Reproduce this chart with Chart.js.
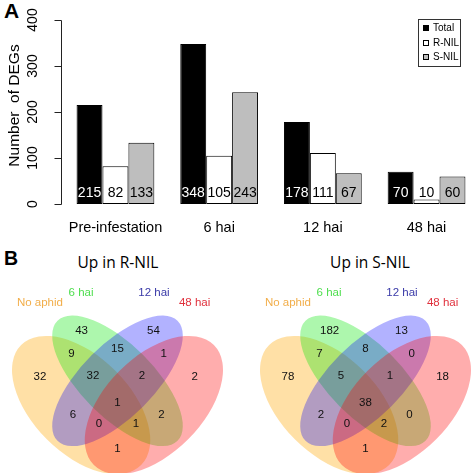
<!DOCTYPE html>
<html>
<head>
<meta charset="utf-8">
<script src="https://cdn.jsdelivr.net/npm/chart.js@4.4.1/dist/chart.umd.min.js"></script>
<style>
  html, body { margin: 0; padding: 0; background: #fff; }
  body { width: 472px; height: 473px; overflow: hidden; position: relative; }
  canvas { position: absolute; }
  .panel { position: absolute; font-family: "Liberation Sans", Arial, sans-serif; font-weight: bold; line-height: 1; }
  .vtitle { position: absolute; width: 120px; text-align: center; font: 15.5px "Open Sans", sans-serif; line-height: 1; }
</style>
</head>
<body>
<div class="panel" style="left:4px; top:0px; font-size:21px;">A</div>
<div class="panel" style="left:4px; top:249px; font-size:19.5px;">B</div>
<div class="vtitle" style="left:58px; top:255px;">Up in R-NIL</div>
<div class="vtitle" style="left:310px; top:255px;">Up in S-NIL</div>

<canvas id="barChart" width="482" height="240" style="left:0; top:0;"></canvas>
<canvas id="vennR" width="236" height="193" style="left:0; top:280px;"></canvas>
<canvas id="vennS" width="224" height="193" style="left:248px; top:280px;"></canvas>

<script>
// panel A data
const groups = ["Pre-infestation", "6 hai", "12 hai", "48 hai"];
const totalDEGs = [215, 348, 178, 70];
const rnilDEGs = [82, 105, 111, 10];
const snilDEGs = [133, 243, 67, 60];
const yTicks = [0, 100, 200, 300, 400];
const seriesNames = ["Total", "R-NIL", "S-NIL"];

// panel B data
const vennSets = ["No aphid", "6 hai", "12 hai", "48 hai"];
// regions: A, B, C, D, AB, BC, CD, ABC, BCD, ABCD, AC, ACD, ABD, BD, AD
const upRNIL = [32, 43, 54, 2, 9, 15, 1, 32, 2, 1, 6, 0, 1, 2, 1];
const upSNIL = [78, 182, 13, 18, 7, 8, 0, 5, 1, 38, 2, 0, 2, 0, 1];

// venn layout (unit square, y up), same for both diagrams
const regionPos = [
  [0.180, 0.586], [0.352, 0.775], [0.648, 0.775], [0.818, 0.586],
  [0.310, 0.680], [0.500, 0.701], [0.690, 0.680],
  [0.399, 0.590], [0.601, 0.590], [0.500, 0.478],
  [0.316, 0.429], [0.424, 0.392], [0.576, 0.392], [0.681, 0.429],
  [0.500, 0.289]
];
const setLabelPos = [[0.180, 0.891], [0.3495, 0.932], [0.6505, 0.932], [0.818, 0.891]];
const ellipses = [
  { x: 0.35, y: 0.47, a: 0.35, b: 0.20, rot: 45 },
  { x: 0.50, y: 0.57, a: 0.35, b: 0.15, rot: 45 },
  { x: 0.50, y: 0.57, a: 0.35, b: 0.15, rot: -45 },
  { x: 0.65, y: 0.47, a: 0.35, b: 0.20, rot: -45 }
];
const vennFills = ["rgba(255,165,0,0.35)", "rgba(0,230,0,0.32)", "rgba(0,0,255,0.30)", "rgba(255,0,0,0.32)"];
const vennLabelColors = ["#f2ae4a", "#4ede4e", "#3a3aa8", "#e0303c"];

const FONT = '"Liberation Sans", Arial, sans-serif';

// ---------- bar chart ----------
const barDecor = {
  id: "barDecor",
  afterDraw(chart) {
    const ctx = chart.ctx;
    const y = chart.scales.y;
    const area = chart.chartArea;
    ctx.save();

    // y axis like R
    const ax = Math.round(area.left - 3) + 0.5;
    ctx.strokeStyle = "#222";
    ctx.lineWidth = 1;
    ctx.beginPath();
    ctx.moveTo(ax, Math.round(y.getPixelForValue(yTicks[0])) + 0.5);
    ctx.lineTo(ax, Math.round(y.getPixelForValue(yTicks[yTicks.length - 1])) + 0.5);
    yTicks.forEach(t => {
      const py = Math.round(y.getPixelForValue(t)) + 0.5;
      ctx.moveTo(ax - 7, py);
      ctx.lineTo(ax, py);
    });
    ctx.stroke();

    ctx.fillStyle = "#000";
    ctx.font = "14px " + FONT;
    ctx.textAlign = "center";
    ctx.textBaseline = "middle";
    yTicks.forEach(t => {
      ctx.save();
      ctx.translate(33, y.getPixelForValue(t));
      ctx.rotate(-Math.PI / 2);
      ctx.fillText(String(t), 0, 0);
      ctx.restore();
    });

    // y title
    ctx.save();
    ctx.font = "15.5px " + FONT;
    ctx.translate(15, 105.5);
    ctx.rotate(-Math.PI / 2);
    ctx.fillText("Number  of DEGs", 0, 0);
    ctx.restore();

    // group labels
    ctx.font = "14.5px " + FONT;
    const mid = chart.getDatasetMeta(1).data;
    groups.forEach((g, i) => ctx.fillText(g, mid[i].x, area.bottom + 24));

    // numbers in bars
    ctx.font = "14px " + FONT;
    const textCols = ["#fff", "#000", "#000"];
    chart.data.datasets.forEach((ds, di) => {
      chart.getDatasetMeta(di).data.forEach((bar, i) => {
        ctx.fillStyle = textCols[di];
        ctx.fillText(String(ds.data[i]), bar.x, area.bottom - 11);
      });
    });

    // legend
    const lx = 418.5, ly = 19.5, lw = 42, lh = 47;
    ctx.strokeStyle = "#333";
    ctx.strokeRect(lx, ly, lw, lh);
    ctx.font = "10px " + FONT;
    ctx.textAlign = "left";
    const rows = [28, 43, 57];
    chart.data.datasets.forEach((ds, di) => {
      ctx.fillStyle = ds.backgroundColor;
      ctx.fillRect(423, rows[di] - 3, 6, 6);
      ctx.strokeStyle = "#000";
      ctx.strokeRect(423.5, rows[di] - 2.5, 5, 5);
      ctx.fillStyle = "#000";
      ctx.fillText(seriesNames[di], 433, rows[di]);
    });
    ctx.restore();
  }
};

new Chart(document.getElementById("barChart"), {
  type: "bar",
  data: {
    labels: groups,
    datasets: [
      { label: seriesNames[0], data: totalDEGs, backgroundColor: "#000000" },
      { label: seriesNames[1], data: rnilDEGs, backgroundColor: "#ffffff" },
      { label: seriesNames[2], data: snilDEGs, backgroundColor: "#bebebe" }
    ]
  },
  options: {
    responsive: false,
    animation: false,
    devicePixelRatio: 1,
    layout: { padding: { left: 63.6, right: 3.6, top: 20, bottom: 36 } },
    datasets: {
      bar: {
        borderColor: "#000", borderWidth: 1, borderSkipped: false,
        categoryPercentage: 0.75, barPercentage: 1.0
      }
    },
    scales: {
      x: { display: false },
      y: { display: false, min: 0, max: 400 }
    },
    plugins: { legend: { display: false }, tooltip: { enabled: false } }
  },
  plugins: [barDecor]
});

// ---------- venn diagrams ----------
const VENN_PX = 242.5;  // pixels per unit
const VENN_CX = 117.5;  // pixel of x = 0.5
const VENN_Y0 = 239;    // pixel of y = 0

const vennDraw = {
  id: "vennDraw",
  beforeDatasetsDraw(chart) {
    const ctx = chart.ctx, sx = chart.scales.x, sy = chart.scales.y;
    const unit = sx.getPixelForValue(1) - sx.getPixelForValue(0);
    ctx.save();
    ellipses.forEach((e, i) => {
      ctx.beginPath();
      ctx.ellipse(sx.getPixelForValue(e.x), sy.getPixelForValue(e.y), e.a * unit, e.b * unit,
        e.rot * Math.PI / 180, 0, Math.PI * 2);
      ctx.fillStyle = vennFills[i];
      ctx.fill();
    });
    ctx.restore();
  },
  afterDatasetsDraw(chart) {
    const ctx = chart.ctx, sx = chart.scales.x, sy = chart.scales.y;
    ctx.save();
    ctx.textAlign = "center";
    ctx.textBaseline = "middle";
    ctx.font = "11.5px " + FONT;
    ctx.fillStyle = "#111";
    const ds = chart.data.datasets[0];
    chart.getDatasetMeta(0).data.forEach((pt, i) => {
      ctx.fillText(String(ds.data[i].v), pt.x, pt.y);
    });
    ctx.font = "11.5px " + FONT;
    vennSets.forEach((s, i) => {
      ctx.fillStyle = vennLabelColors[i];
      ctx.fillText(s, sx.getPixelForValue(setLabelPos[i][0]), sy.getPixelForValue(setLabelPos[i][1]));
    });
    ctx.restore();
  }
};

function makeVenn(id, counts) {
  const cv = document.getElementById(id);
  const xmin = 0.5 - VENN_CX / VENN_PX;
  const ymax = VENN_Y0 / VENN_PX;
  new Chart(cv, {
    type: "scatter",
    data: {
      datasets: [{
        data: counts.map((v, i) => ({ x: regionPos[i][0], y: regionPos[i][1], v: v })),
        pointRadius: 0
      }]
    },
    options: {
      responsive: false,
      animation: false,
      devicePixelRatio: 1,
      layout: { padding: 0 },
      scales: {
        x: { type: "linear", display: false, min: xmin, max: xmin + cv.width / VENN_PX },
        y: { type: "linear", display: false, min: ymax - cv.height / VENN_PX, max: ymax }
      },
      plugins: { legend: { display: false }, tooltip: { enabled: false } }
    },
    plugins: [vennDraw]
  });
}

makeVenn("vennR", upRNIL);
makeVenn("vennS", upSNIL);
</script>
</body>
</html>
